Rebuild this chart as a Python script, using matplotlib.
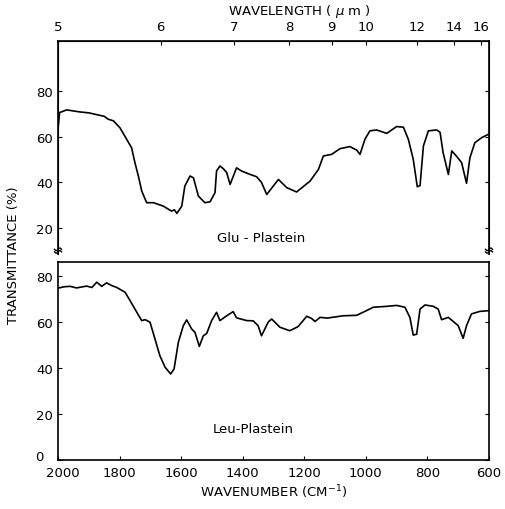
import numpy as np
import matplotlib.pyplot as plt
from matplotlib.transforms import ScaledTranslation

# Glu-Plastein spectrum (top panel), wavenumber in cm-1, transmittance in %
glu_wn = [2000, 1995, 1972, 1929, 1900, 1864, 1850, 1837, 1820, 1799, 1777, 1761,
          1750, 1739, 1728, 1712, 1690, 1658, 1631, 1622, 1614, 1598, 1588, 1571,
          1560, 1544, 1523, 1506, 1490, 1485, 1474, 1463, 1452, 1441, 1420, 1404,
          1376, 1355, 1339, 1322, 1284, 1257, 1225, 1181, 1154, 1138, 1111, 1084,
          1052, 1030, 1019, 1003, 987, 965, 932, 900, 878, 862, 846, 833, 824, 813,
          797, 770, 759, 749, 732, 721, 705, 689, 673, 662, 646, 624, 602]
glu_t = [63, 70.6, 71.8, 70.9, 70.5, 69.4, 69.0, 67.7, 67.0, 64.0, 58.9, 55.2,
         48.6, 42.8, 36.2, 31.1, 31.1, 29.6, 27.4, 28.0, 26.4, 29.6, 38.4, 42.8,
         42.0, 34.0, 31.1, 31.5, 35.5, 45.0, 47.2, 46.0, 44.3, 39.1, 46.4, 45.0,
         43.5, 42.5, 40.0, 34.7, 41.3, 37.7, 35.8, 40.6, 45.7, 51.6, 52.3, 54.8,
         55.7, 54.2, 52.3, 58.9, 62.6, 63.0, 61.5, 64.5, 64.2, 58.9, 50.1, 38.1,
         38.6, 56.0, 62.6, 63.0, 62.0, 53.0, 43.5, 53.8, 51.4, 48.7, 39.6, 50.8,
         57.4, 59.6, 61.1]

# Leu-Plastein spectrum (bottom panel)
leu_wn = [2000, 1980, 1961, 1940, 1907, 1890, 1874, 1858, 1842, 1825, 1809, 1782,
          1766, 1744, 1728, 1717, 1701, 1685, 1669, 1652, 1634, 1623, 1609, 1593,
          1582, 1566, 1555, 1541, 1528, 1517, 1501, 1485, 1474, 1452, 1431, 1420,
          1387, 1366, 1350, 1339, 1317, 1306, 1279, 1247, 1220, 1192, 1176, 1165,
          1149, 1125, 1073, 1030, 997, 976, 932, 900, 873, 857, 846, 835, 824, 808,
          781, 765, 754, 732, 716, 700, 684, 673, 657, 630, 602]
leu_t = [74.7, 75.3, 75.5, 74.8, 75.6, 75.0, 77.3, 75.5, 77.0, 75.8, 75.0, 72.9,
         69.3, 64.2, 60.6, 61.0, 59.9, 52.6, 45.3, 40.3, 37.4, 39.6, 51.2, 58.4,
         60.9, 57.0, 55.5, 49.4, 54.0, 55.0, 60.6, 64.2, 60.6, 62.7, 64.5, 61.8,
         60.6, 60.5, 58.4, 54.0, 60.0, 61.3, 57.7, 56.2, 58.0, 62.5, 61.5, 60.2,
         62.0, 61.7, 62.7, 62.9, 65.0, 66.4, 66.8, 67.2, 66.4, 62.0, 54.3, 54.7,
         65.6, 67.4, 66.8, 65.6, 61.0, 62.0, 60.2, 58.4, 52.9, 58.4, 63.5, 64.6, 64.9]

wavelengths = [5, 6, 7, 8, 9, 10, 12, 14, 16]
wn_ticks = [2000, 1800, 1600, 1400, 1200, 1000, 800, 600]

FS = 9.5

fig = plt.figure(figsize=(5.06, 5.10), dpi=100)
left, width = 58 / 506, 431 / 506
ax1 = fig.add_axes([left, 0.50, width, 0.4176])
ax2 = fig.add_axes([left, 0.096, width, 0.388])

ax1.plot(glu_wn, glu_t, color="black", lw=1.2)
ax2.plot(leu_wn, leu_t, color="black", lw=1.2)

for ax in (ax1, ax2):
    ax.set_xlim(2000, 600)
    ax.tick_params(direction="in", length=3, width=0.8, labelsize=FS,
                   right=True, colors="black")
    for s in ax.spines.values():
        s.set_linewidth(1.2)

ax1.set_ylim(8.6, 102)
ax1.set_yticks([20, 40, 60, 80])
ax1.set_xticks([])
ax1.spines["bottom"].set_visible(False)

ax2.set_ylim(0, 86)
ax2.set_yticks([0, 20, 40, 60, 80])
ax2.set_xticks(wn_ticks)
ax2.tick_params(axis="x", top=False, pad=4)
ax2.set_xlabel("WAVENUMBER (CM$^{-1}$)", fontsize=FS, labelpad=3)

# nudge the corner labels apart like in the original
lbl0 = ax2.get_yticklabels()[0]
lbl0.set_transform(lbl0.get_transform()
                   + ScaledTranslation(-10 / 100, 5 / 100, fig.dpi_scale_trans))
lbl2000 = ax2.get_xticklabels()[0]
lbl2000.set_transform(lbl2000.get_transform()
                      + ScaledTranslation(5 / 100, 0, fig.dpi_scale_trans))

# wavelength axis on top
top = ax1.twiny()
top.set_xlim(ax1.get_xlim())
top.set_xticks([10000 / w for w in wavelengths])
top.set_xticklabels([str(w) for w in wavelengths])
top.tick_params(direction="in", length=3, labelsize=FS, pad=6)
top.spines["bottom"].set_visible(False)
top.set_xlabel("WAVELENGTH ( $\\mu$ m )", fontsize=FS)
top.xaxis.set_label_coords(0.56, 1.125)

ax1.text(1340, 16, "Glu - Plastein", ha="center", va="center", fontsize=FS)
ax2.text(1365, 13.5, "Leu-Plastein", ha="center", va="center", fontsize=FS)

fig.text(0.027, 0.50, "TRANSMITTANCE (%)", rotation=90, ha="center",
         va="center", fontsize=FS)

# break marks on the left and right spines
for xpos in (0, 1):
    for dy in (0.0, 0.012):
        xs = np.linspace(-0.008, 0.008, 20)
        ys = 0.010 + dy + 0.006 * np.sin(xs / 0.008 * np.pi)
        ax1.plot(xpos + xs, ys, color="black", lw=1, transform=ax1.transAxes,
                 clip_on=False)

fig.savefig("out.png", dpi=100)
